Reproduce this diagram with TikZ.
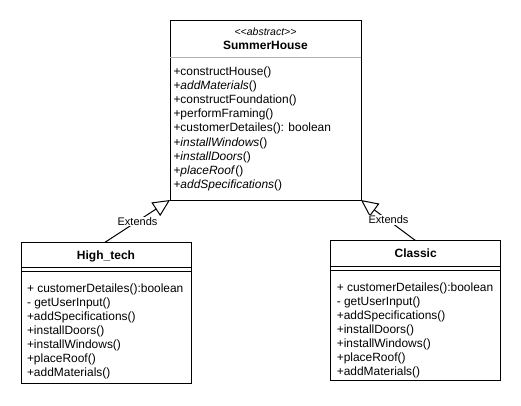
\documentclass[tikz,border=0pt]{standalone}
\usepackage{fontspec}
\setmainfont{Liberation Sans}
\usetikzlibrary{arrows.meta}
\begin{document}
\begin{tikzpicture}[x=1pt,y=-1pt,line width=1pt,
  box/.style={draw, anchor=north west, inner sep=0pt, outer sep=0pt},
  member/.style={anchor=base west, inner sep=0pt, font=\fontsize{11.95}{14}\selectfont},
  title/.style={anchor=base, inner sep=0pt, font=\bfseries\fontsize{12}{14}\selectfont},
  stereo/.style={anchor=base, inner sep=0pt, font=\itshape\fontsize{10.5}{12}\selectfont},
  ext/.style={-{Triangle[open,length=17pt,width=16pt]}},
  lbl/.style={fill=white, inner sep=0.5pt, font=\fontsize{11}{13}\selectfont}]
\useasboundingbox (0,0) rectangle (521,405);
\fill[white] (0,0) rectangle (521,405);

% SummerHouse
\node[box, minimum width=191pt, minimum height=180pt] (sh) at (170,20) {};
\draw[gray!60] ([yshift=-37.7pt]sh.north west) -- ([yshift=-37.7pt]sh.north east);
\node[stereo] (shs) at (265.5,35) {<{}<abstract>{}>};
\node[title] (sht) at (265.5,49.3) {SummerHouse};
\foreach \t [count=\i] in {
  +constructHouse(),
  +\textit{addMaterials}(),
  +constructFoundation(),
  +performFraming(),
  +customerDetailes(): boolean,
  +\textit{installWindows}(),
  +\textit{installDoors}(),
  +\textit{placeRoof}(),
  +\textit{addSpecifications}()}
  \node[member] (shm\i) at (173,{75.5+14.1*(\i-1)}) {\t};

% High_tech
\node[box, minimum width=170pt, minimum height=141pt] (ht) at (21,242.3) {};
\draw ([yshift=-25.3pt]ht.north west) -- ([yshift=-25.3pt]ht.north east);
\draw ([yshift=-29.3pt]ht.north west) -- ([yshift=-29.3pt]ht.north east);
\node[title] (htt) at (106,259) {High\_tech};
\foreach \t [count=\i] in {
  + customerDetailes():boolean,
  - getUserInput(),
  +addSpecifications(),
  +installDoors(),
  +installWindows(),
  +placeRoof(),
  +addMaterials()}
  \node[member] (htm\i) at (26.5,{292+14.05*(\i-1)}) {\t};

% Classic
\node[box, minimum width=170pt, minimum height=140pt] (cl) at (330.7,240.7) {};
\draw ([yshift=-25.3pt]cl.north west) -- ([yshift=-25.3pt]cl.north east);
\draw ([yshift=-29.3pt]cl.north west) -- ([yshift=-29.3pt]cl.north east);
\node[title] (clt) at (415.7,257.7) {Classic};
\foreach \t [count=\i] in {
  + customerDetailes():boolean,
  - getUserInput(),
  +addSpecifications(),
  +installDoors(),
  +installWindows(),
  +placeRoof(),
  +addMaterials()}
  \node[member] (clm\i) at (336.3,{291.5+14.05*(\i-1)}) {\t};

% generalisations
\draw[ext] ([xshift=-1pt]ht.north) -- (sh.south west);
\draw[ext] (cl.north) -- (sh.south east);
\node[lbl] (e1) at (137.5,221.7) {Extends};
\node[lbl] (e2) at (388.5,220) {Extends};
\end{tikzpicture}
\end{document}
